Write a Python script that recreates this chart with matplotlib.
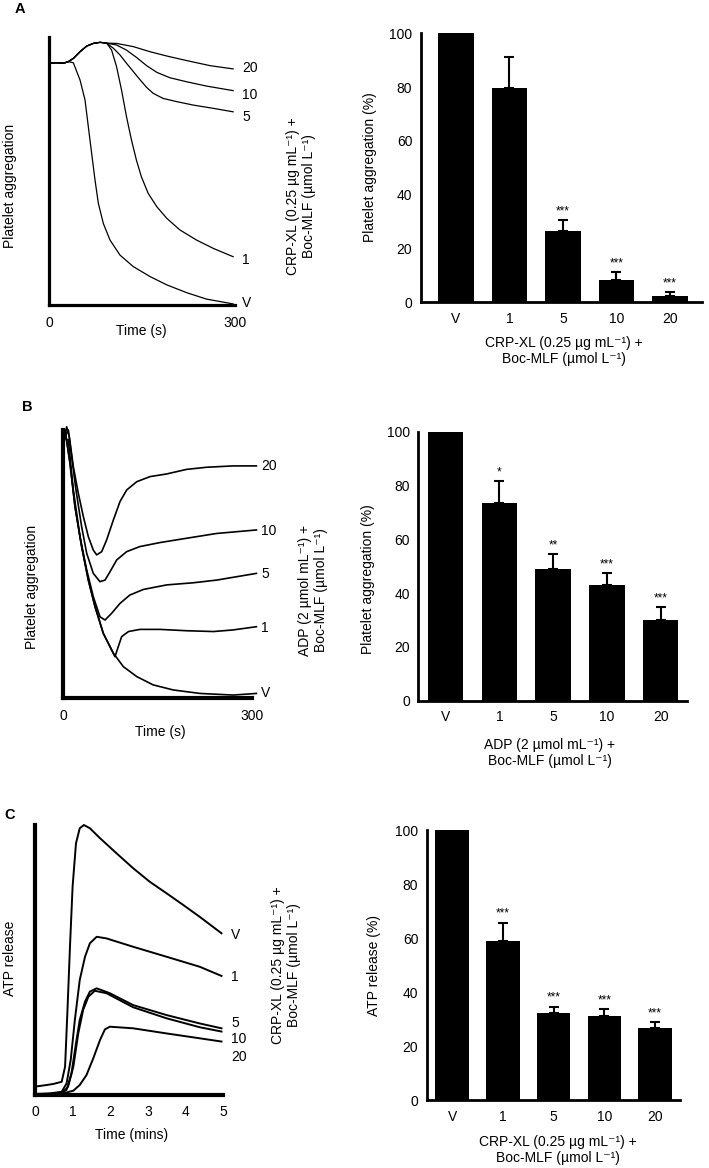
import numpy as np
import matplotlib
matplotlib.use('Agg')
import matplotlib.pyplot as plt

plt.rcParams['font.family'] = ['Liberation Sans', 'DejaVu Sans']
plt.rcParams['font.size'] = 10

W, H = 709, 1168

doses = ['V', '1', '5', '10', '20']

# ---- panel A traces: CRP-XL aggregation (time s, % of full scale) ----
a_pre_t = [0, 12.4, 23.1, 31.2]
a_pre_y = [90.1, 90.3, 90.1, 90.7]
a_hump_t = [39.2, 50, 60.8, 71.5, 82.3, 93]
a_hump_y = [91.9, 94.4, 96.5, 97.5, 97.9, 97.6]
a_v_t = [39.2, 50, 58.1, 63.4, 68.8, 74.2, 79.6, 87.6, 98.4, 114.5, 136, 163, 190, 222, 254, 297]
a_v_y = [90.3, 83.9, 76.4, 66.5, 56.5, 46.6, 37.9, 30.4, 24.2, 18.6, 14.3, 10.6, 7.5, 4.6, 2.2, 0.4]
a_1_t = [101, 109, 117, 125, 133, 141, 149, 160, 174, 190, 211, 238, 265, 297]
a_1_y = [95, 88.8, 80.1, 70.2, 61.5, 54, 47.8, 41.6, 36.6, 32.3, 28, 24.2, 21.1, 18]
a_5_t = [103.8, 114.5, 125, 136, 147, 157.5, 168, 184, 206, 233, 265, 297]
a_5_y = [95.7, 93.2, 90.1, 87, 83.9, 81.1, 78.9, 77, 75.8, 74.5, 73.3, 72]
a_10_t = [109, 125, 141, 157.5, 174, 195, 222, 254, 297]
a_10_y = [96.9, 95, 92.3, 89.2, 86.7, 84.7, 83.2, 81.6, 79.9]
a_20_t = [109, 136, 163, 190, 222, 260, 297]
a_20_y = [97.5, 96.3, 94.4, 92.8, 91.1, 89.2, 88]

# ---- panel B traces: ADP aggregation ----
b_20_t = [0.5, 5.8, 10, 16.4, 24.3, 32.3, 40.2, 48.1, 53.4, 61.4, 69.3, 79.9, 90.5, 101, 117, 138, 164.6, 196, 228, 270, 307]
b_20_y = [93.8, 101.2, 97.5, 86.3, 76.4, 67.7, 60.2, 55.2, 53.4, 54.6, 59, 66.4, 73.3, 77.6, 80.7, 82.6, 83.6, 85.3, 86.1, 86.6, 86.6]
b_10_t = [0.5, 8.5, 13.8, 20.6, 29.6, 37.6, 48.1, 58.7, 66.7, 74.6, 85.2, 101, 122, 154, 196, 244, 307]
b_10_y = [96, 100, 90, 77.6, 63.9, 54, 46.5, 43.4, 44, 47.1, 51.5, 54.6, 56.5, 58, 59.6, 61.4, 62.7]
b_5_t = [0.5, 8.5, 16.4, 27, 37.6, 48.1, 58.7, 66.7, 77.2, 90.5, 106, 127.5, 164.6, 207, 244, 307]
b_5_y = [97, 96.3, 77.6, 60.2, 47.8, 37.8, 30.3, 29.1, 31.6, 35.3, 38.4, 40.5, 42.2, 43, 44, 46.5]
b_v_t = [0.5, 3.2, 11.1, 19, 29.6, 40.2, 50.8, 64, 80, 95.8, 117, 143, 175, 217.5, 270, 307]
b_v_y = [98, 100, 87.6, 71.4, 56.5, 44, 34.1, 24.1, 16.7, 11.7, 8, 4.9, 3, 1.7, 1.1, 1.7]
b_1_t = [0.5, 3.2, 11.1, 19, 29.6, 40.2, 50.8, 64, 77.2, 82.5, 87.8, 93.1, 104, 122, 154, 196, 239, 270, 307]
b_1_y = [98, 100, 87.6, 71.4, 56.5, 44, 34.1, 24.1, 17.9, 15.4, 19.2, 22.9, 24.8, 25.6, 25.6, 25.1, 24.8, 25.4, 26.6]

# ---- panel C traces: ATP release (time mins) ----
c_v_t = [0, 0.31, 0.49, 0.71, 0.80, 0.86, 0.93, 1.0, 1.09, 1.19, 1.30, 1.46, 1.73, 2.17, 2.61, 3.05, 3.50, 3.94, 4.38, 4.96]
c_v_y = [3.1, 3.7, 4.1, 4.9, 10.5, 30.2, 54.9, 77.2, 93.2, 98.8, 100, 98.8, 95.1, 89.5, 84, 79, 74.7, 70.4, 66, 59.9]
c_1_t = [0, 0.4, 0.71, 0.84, 0.95, 1.06, 1.19, 1.33, 1.46, 1.64, 1.90, 2.61, 3.5, 4.38, 4.96]
c_1_y = [0.4, 0.6, 1.2, 4.3, 13, 27.8, 42.6, 51.2, 56.2, 58.6, 58, 54.9, 51.2, 47.5, 44.1]
c_5_t = [0, 0.66, 0.84, 0.97, 1.09, 1.19, 1.33, 1.46, 1.64, 1.99, 2.61, 3.5, 4.38, 4.96]
c_5_y = [0.2, 0.6, 1.9, 8, 19.1, 27.8, 34.6, 38.3, 39.5, 37.7, 33.3, 29.6, 26.5, 24.7]
c_10_t = [0, 0.71, 0.88, 1.02, 1.15, 1.28, 1.42, 1.59, 1.9, 2.61, 3.5, 4.38, 4.96]
c_10_y = [0.1, 0.6, 3.1, 10.5, 22.8, 31.5, 36.4, 38.6, 37.7, 32.5, 28.4, 25.1, 23.5]
c_20_t = [0, 0.75, 1.02, 1.19, 1.37, 1.55, 1.73, 1.86, 1.99, 2.61, 3.5, 4.38, 4.96]
c_20_y = [0.2, 0.6, 1.6, 3.7, 7.4, 13.6, 20.4, 24.3, 25.3, 24.7, 22.8, 21, 19.8]

# ---- bar data (mean, upper error, significance) ----
a_mean = [100, 79.8, 26.5, 8.3, 2.4]
a_err = [0, 11.3, 4.1, 2.7, 1.2]
a_sig = ['', '', '***', '***', '***']
b_mean = [100, 73.4, 48.8, 43.1, 30.1]
b_err = [0, 8.4, 5.7, 4.2, 4.7]
b_sig = ['', '*', '**', '***', '***']
c_mean = [100, 59, 32.1, 31.1, 26.7]
c_err = [0, 6.7, 2.5, 2.5, 2.2]
c_sig = ['', '***', '***', '***', '***']

fig = plt.figure(figsize=(W / 100, H / 100), dpi=100)


def px_axes(l, t, r, b):
    return fig.add_axes([l / W, 1 - b / H, (r - l) / W, (b - t) / H])


def ftext(x, y, s, **kw):
    kw.setdefault('ha', 'center')
    kw.setdefault('va', 'center')
    fig.text(x / W, 1 - y / H, s, **kw)


def style_trace(ax, lw):
    for s in ['top', 'right']:
        ax.spines[s].set_visible(False)
    ax.spines['left'].set_linewidth(lw)
    ax.spines['bottom'].set_linewidth(lw)
    ax.set_yticks([])
    ax.tick_params(axis='x', length=0, labelsize=10)
    ax.set_ylim(0, 100)


def bar_panel(ax, means, errs, sig):
    x = np.arange(len(doses))
    ax.bar(x, means, width=0.66, color='black')
    ax.errorbar(x[1:], means[1:], yerr=[np.zeros(len(x) - 1), errs[1:]],
                fmt='none', ecolor='black', elinewidth=1.5, capsize=3.8, capthick=1.5)
    for i in range(len(x)):
        if sig[i]:
            ax.text(x[i], means[i] + errs[i] + 1.0, sig[i], ha='center', va='bottom', fontsize=8.5)
    for s in ['top', 'right']:
        ax.spines[s].set_visible(False)
    ax.spines['left'].set_linewidth(2)
    ax.spines['bottom'].set_linewidth(2)
    ax.set_ylim(0, 100)
    ax.set_yticks([0, 20, 40, 60, 80, 100])
    ax.set_xticks(x)
    ax.set_xticklabels(doses)
    ax.tick_params(length=0, labelsize=10)
    ax.tick_params(axis='y', pad=6)
    ax.tick_params(axis='x', pad=7)


crp = 'CRP-XL (0.25 \u00b5g mL\u207b\u00b9) +\nBoc-MLF (\u00b5mol L\u207b\u00b9)'
adp = 'ADP (2 \u00b5mol mL\u207b\u00b9) +\nBoc-MLF (\u00b5mol L\u207b\u00b9)'

# ===== A traces =====
ax = px_axes(49, 36.7, 235, 305)
lw = 0.9
ax.plot(a_pre_t + a_v_t, a_pre_y + a_v_y, color='black', lw=lw, clip_on=False)
for tt, yy in [(a_1_t, a_1_y), (a_5_t, a_5_y), (a_10_t, a_10_y), (a_20_t, a_20_y)]:
    ax.plot(a_pre_t + a_hump_t + tt, a_pre_y + a_hump_y + yy, color='black', lw=lw, clip_on=False)
ax.set_xlim(0, 300)
style_trace(ax, 2.3)
ax.set_xticks([0, 300])
ax.tick_params(axis='x', pad=8)
ftext(141, 331, 'Time (s)')
ftext(10, 186, 'Platelet aggregation', rotation=90)
ftext(301, 196, crp, rotation=90)
for lab, yy in zip(['20', '10', '5', '1', 'V'], [68, 95, 117, 260, 303]):
    ftext(242, yy, lab, ha='left')
ftext(20, 9, 'A', fontweight='bold', fontsize=10.5)

# ===== A bars =====
ax = px_axes(420.7, 33.3, 702, 302)
bar_panel(ax, a_mean, a_err, a_sig)
ax.set_xlim(-0.66, 4.6)
ftext(370, 167, 'Platelet aggregation (%)', rotation=90)
ftext(564, 351, crp)

# ===== B traces =====
ax = px_axes(63, 430, 252, 698)
lw = 1.2
for tt, yy in [(b_v_t, b_v_y), (b_1_t, b_1_y), (b_5_t, b_5_y), (b_10_t, b_10_y), (b_20_t, b_20_y)]:
    ax.plot(tt, yy, color='black', lw=lw, clip_on=False)
ax.set_xlim(0, 300)
style_trace(ax, 3)
ax.set_xticks([0, 300])
ax.tick_params(axis='x', pad=8)
ftext(160, 732, 'Time (s)')
ftext(32, 587, 'Platelet aggregation', rotation=90)
ftext(313, 590, adp, rotation=90)
for lab, yy in zip(['20', '10', '5', '1', 'V'], [466, 531, 574, 628, 693]):
    ftext(261, yy, lab, ha='left')
ftext(27, 407, 'B', fontweight='bold', fontsize=10.5)

# ===== B bars =====
ax = px_axes(418.3, 431.7, 687, 700.7)
bar_panel(ax, b_mean, b_err, b_sig)
ax.set_xlim(-0.51, 4.49)
ftext(368, 579, 'Platelet aggregation (%)', rotation=90)
ftext(550, 753, adp)

# ===== C traces =====
ax = px_axes(35, 825, 223, 1095)
lw = 1.4
for tt, yy in [(c_v_t, c_v_y), (c_1_t, c_1_y), (c_5_t, c_5_y), (c_10_t, c_10_y), (c_20_t, c_20_y)]:
    ax.plot(tt, yy, color='black', lw=lw, clip_on=False)
ax.set_xlim(0, 5)
style_trace(ax, 3)
ax.set_xticks([0, 1, 2, 3, 4, 5])
ax.tick_params(axis='x', pad=7)
ftext(132, 1135, 'Time (mins)')
ftext(10, 958, 'ATP release', rotation=90)
ftext(286, 965, crp, rotation=90)
for lab, yy in zip(['V', '1', '5', '10', '20'], [935, 977, 1023, 1039, 1057]):
    ftext(231, yy, lab, ha='left')
ftext(10, 815, 'C', fontweight='bold', fontsize=10.5)

# ===== C bars =====
ax = px_axes(426.7, 830, 680, 1100)
bar_panel(ax, c_mean, c_err, c_sig)
ax.set_xlim(-0.5, 4.49)
ftext(374, 966, 'ATP release (%)', rotation=90)
ftext(558, 1150, crp)

fig.savefig('out.png', dpi=100)
